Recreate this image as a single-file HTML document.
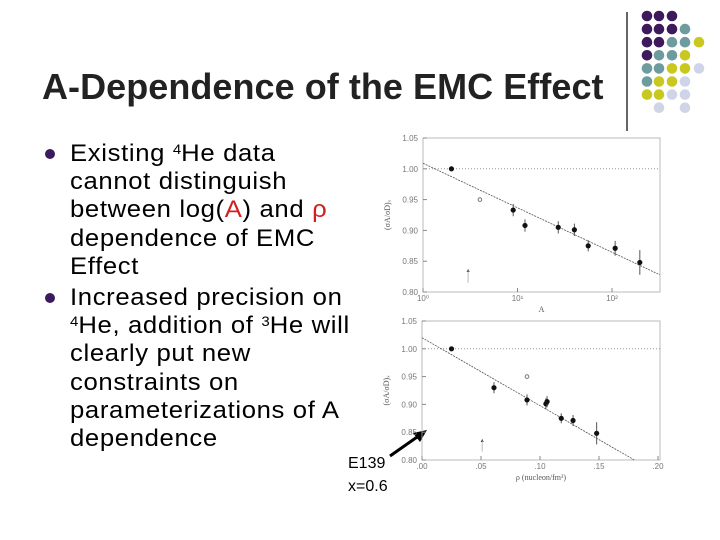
<!DOCTYPE html>
<html><head><meta charset="utf-8"><style>
body{margin:0;width:720px;height:540px;background:#fff;overflow:hidden;position:relative;font-family:"Liberation Sans",sans-serif}
#title{position:absolute;left:42px;top:66px;font-size:36px;font-weight:bold;color:#222;white-space:nowrap;letter-spacing:0.05px}
.b{position:absolute;left:70px;font-size:24px;line-height:28.2px;color:#000;white-space:nowrap;letter-spacing:0.6px;transform:scaleX(1.07);transform-origin:0 0}
.dot{position:absolute;left:45px;width:10px;height:10px;border-radius:50%;background:#3d1a5c}
sup{font-size:14px;vertical-align:7px;line-height:0;letter-spacing:0}
.r{color:#d02020}
.lab{position:absolute;font-size:16px;color:#000}
</style></head><body>
<div id="title">A-Dependence of the EMC Effect</div>
<div class="dot" style="top:149px"></div>
<div class="b" style="top:140px">Existing <sup>4</sup>He data<br>cannot distinguish<br>between log(<span class="r">A</span>) and <span class="r">ρ</span><br>dependence of EMC<br>Effect</div>
<div class="dot" style="top:293px"></div>
<div class="b" style="top:284px">Increased precision on<br><sup>4</sup>He, addition of <sup>3</sup>He will<br>clearly put new<br>constraints on<br>parameterizations of A<br>dependence</div>
<div class="lab" style="left:348px;top:455px">E139</div>
<div class="lab" style="left:348px;top:478px">x=0.6</div>
<svg id="svg" width="720" height="540" style="position:absolute;left:0;top:0"></svg>
<script>
const decoCols=[647,659,672,685,699];
const decoRows=[["P","P","P"],["P","P","P","T"],["P","P","T","T","Y"],["P","T","T","Y"],["T","T","Y","Y","L"],["T","Y","Y","L"],["Y","Y","L","L"],["",  "L","","L"]];
const colorMap={P:"#3d1a5c",T:"#6e9c9e",Y:"#c8c820",L:"#d0d4e8"};
// Top chart data
const aVals=[2,9,12,27,40,56,108,197];
const aRatio=[1.000,0.933,0.908,0.905,0.901,0.875,0.871,0.848];
const aErr=[0.004,0.010,0.010,0.010,0.010,0.009,0.012,0.020];
const aYTicks=[0.80,0.85,0.90,0.95,1.00,1.05];
const aXTicks=[1,10,100];
// Bottom chart data
const rVals=[0.025,0.061,0.089,0.105,0.106,0.118,0.128,0.148];
const rRatio=[1.000,0.930,0.908,0.901,0.905,0.875,0.871,0.848];
const rErr=[0.003,0.010,0.010,0.010,0.010,0.009,0.010,0.020];
const rYTicks=[0.80,0.85,0.90,0.95,1.00,1.05];
const rXTicks=[0,0.05,0.10,0.15,0.20];
const rXLabels=[".00",".05",".10",".15",".20"];

const svg=document.getElementById('svg');const NS='http://www.w3.org/2000/svg';
function mk(t,a,name){const e=document.createElementNS(NS,t);for(const k in a)e.setAttribute(k,a[k]);


svg.appendChild(e);return e;}
mk('line',{x1:627,y1:12,x2:627,y2:131,stroke:'#000','stroke-width':1.2},'divider-line');
decoRows.forEach((row,ri)=>row.forEach((c,ci)=>{if(c)mk('circle',{cx:decoCols[ci],cy:16+ri*13.1,r:5.3,fill:colorMap[c]},'deco-dot');}));
mk('line',{x1:390,y1:456,x2:420,y2:435,stroke:'#000','stroke-width':3},'arrow-shaft');
mk('polygon',{points:'427,430 413,433 420,442',fill:'#000'},'arrow-head');

function chart(o){
 const {x0,x1,y0,y1,xs,ys}=o;
 mk('rect',{x:x0,y:y0,width:x1-x0,height:y1-y0,fill:'none',stroke:'#aaa','stroke-width':0.8},o.p+'-frame');
 o.yt.forEach(v=>{const y=ys(v);
  mk('line',{x1:x0,y1:y,x2:x0+4,y2:y,stroke:'#888'},o.p+'-ytick');
  const t=mk('text',{x:x0-5,y:y+3,'font-size':8,fill:'#777','text-anchor':'end','font-family':'Liberation Sans'},o.p+'-ytick-label');t.textContent=v.toFixed(2);});
 o.xt.forEach((v,i)=>{const x=xs(v);
  mk('line',{x1:x,y1:y1,x2:x,y2:y1-4,stroke:'#888'},o.p+'-xtick');
  const t=mk('text',{x:x,y:y1+9,'font-size':8,fill:'#777','text-anchor':'middle','font-family':'Liberation Sans'},o.p+'-xtick-label');t.textContent=o.xl[i];});
 mk('line',{x1:x0,y1:ys(1),x2:x1,y2:ys(1),stroke:'#999','stroke-dasharray':'1,2'},o.p+'-unity-line');
 mk('line',{x1:xs(o.fit[0][0]),y1:ys(o.fit[0][1]),x2:xs(o.fit[1][0]),y2:ys(o.fit[1][1]),stroke:'#555','stroke-width':0.8,'stroke-dasharray':'2,1'},o.p+'-fit-line');
 o.xv.forEach((v,i)=>{const x=xs(v),y=ys(o.yv[i]);
  mk('line',{x1:x,y1:ys(o.yv[i]+o.err[i]),x2:x,y2:ys(o.yv[i]-o.err[i]),stroke:'#555'},o.p+'-errorbar');
  mk('circle',{cx:x,cy:y,r:2.6,fill:'#111'},o.p+'-point');});
 mk('polygon',{points:`${xs(o.tri[0])-1.5},${ys(o.tri[1])+1.5} ${xs(o.tri[0])+1.5},${ys(o.tri[1])+1.5} ${xs(o.tri[0])},${ys(o.tri[1])-1.5}`,fill:'#111'},o.p+'-he3-point');
 mk('line',{x1:xs(o.tri[0]),y1:ys(o.tri[1]),x2:xs(o.tri[0]),y2:ys(o.tri[1]-0.02),stroke:'#bbb'},o.p+'-he3-err');
 mk('circle',{cx:xs(o.open[0]),cy:ys(o.open[1]),r:1.8,fill:'none',stroke:'#777'},o.p+'-he4-point');
 const yl=mk('text',{x:0,y:0,'font-size':8,fill:'#555','font-family':'Liberation Serif',transform:`translate(${x0-33},${(y0+y1)/2}) rotate(-90)`,'text-anchor':'middle'},o.p+'-y-title');yl.textContent=o.ytitle;
 const xl=mk('text',{x:(x0+x1)/2,y:y1+20,'font-size':8,fill:'#555','text-anchor':'middle','font-family':'Liberation Serif'},o.p+'-x-title');xl.textContent=o.xtitle;
}
const lg=Math.log10;
chart({p:'a-chart',x0:423,x1:660,y0:138,y1:292,
 xs:v=>423+lg(v)*94.5, ys:v=>292-(v-0.80)/0.25*154,
 yt:aYTicks,xt:aXTicks,xl:["10⁰","10¹","10²"],xv:aVals,yv:aRatio,err:aErr,
 fit:[[1,1.009],[320,0.828]],tri:[3,0.835],open:[4,0.95],ytitle:"(σA/σD)ₓ",xtitle:"A"});
chart({p:'rho-chart',x0:422,x1:660,y0:321,y1:460,
 xs:v=>422+v/0.05*59, ys:v=>460-(v-0.80)/0.25*139,
 yt:rYTicks,xt:rXTicks,xl:rXLabels,xv:rVals,yv:rRatio,err:rErr,
 fit:[[0,1.02],[0.18,0.80]],tri:[0.051,0.835],open:[0.089,0.95],ytitle:"(σA/σD)ₓ",xtitle:"ρ (nucleon/fm³)"});
</script>
</body></html>
